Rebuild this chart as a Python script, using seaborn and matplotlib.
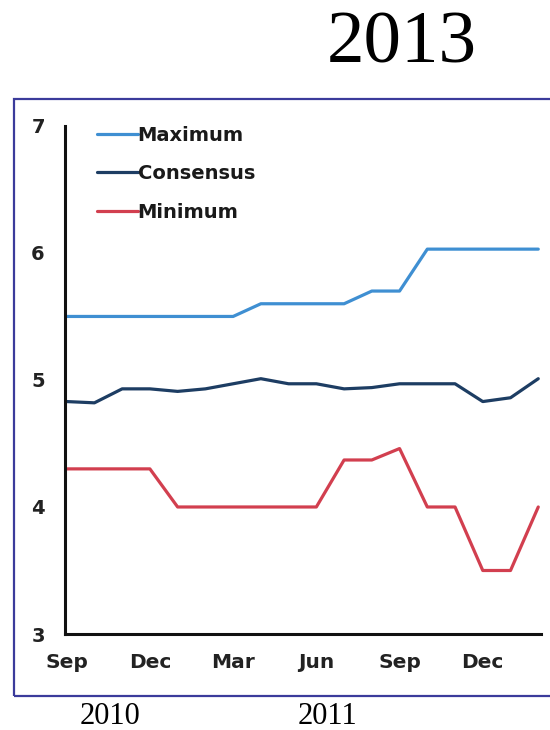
import matplotlib
matplotlib.use("Agg")
import matplotlib.pyplot as plt
from matplotlib.patches import Rectangle
import pandas as pd
import seaborn as sns

# Monthly survey readings, Sep 2010 - Feb 2012
months = ["Sep", "Oct", "Nov", "Dec", "Jan", "Feb", "Mar", "Apr", "May",
          "Jun", "Jul", "Aug", "Sep", "Oct", "Nov", "Dec", "Jan", "Feb"]
maximum = [5.50, 5.50, 5.50, 5.50, 5.50, 5.50, 5.50, 5.60, 5.60,
           5.60, 5.60, 5.70, 5.70, 6.03, 6.03, 6.03, 6.03, 6.03]
consensus = [4.83, 4.82, 4.93, 4.93, 4.91, 4.93, 4.97, 5.01, 4.97,
             4.97, 4.93, 4.94, 4.97, 4.97, 4.97, 4.83, 4.86, 5.01]
minimum = [4.30, 4.30, 4.30, 4.30, 4.00, 4.00, 4.00, 4.00, 4.00,
           4.00, 4.37, 4.37, 4.46, 4.00, 4.00, 3.50, 3.50, 4.00]

series_names = ["Maximum", "Consensus", "Minimum"]
series_colors = ["#3f8fd2", "#1d3d63", "#d23f4f"]
y_ticks = [3, 4, 5, 6, 7]
x_label_every = 3
year_labels = ["2010", "2011"]
title = "2013"

df = pd.DataFrame({
    "idx": list(range(len(months))) * 3,
    "value": maximum + consensus + minimum,
    "series": sum([[n] * len(months) for n in series_names], []),
})

sns.set_style("white")
plt.rcParams["font.family"] = ["DejaVu Sans"]

fig = plt.figure(figsize=(5.5, 7.3), dpi=100)
ax = fig.add_axes([0.1182, 0.1315, 0.8655, 0.696])

sns.lineplot(data=df, x="idx", y="value", hue="series", hue_order=series_names,
             palette=series_colors, linewidth=2.3, ax=ax, legend=True)

ax.set_xlim(-0.06, 17.1)
ax.set_ylim(3, 7)
ax.set_yticks(y_ticks)
ax.set_yticklabels([str(t) for t in y_ticks])
tick_pos = list(range(0, len(months), x_label_every))
ax.set_xticks(tick_pos)
ax.set_xticklabels([months[i] for i in tick_pos])
ax.set_xlabel("")
ax.set_ylabel("")

for side in ["top", "right"]:
    ax.spines[side].set_visible(False)
for side in ["left", "bottom"]:
    ax.spines[side].set_color("#111111")
    ax.spines[side].set_linewidth(2.2)

ax.tick_params(axis="y", direction="out", length=7.5, width=1.8, color="#111111",
               pad=7, labelsize=14, labelcolor="#222222")
ax.tick_params(axis="x", direction="out", length=6, width=1.8, color="#111111",
               pad=8, labelsize=14.5, labelcolor="#222222")
for lab in ax.get_xticklabels() + ax.get_yticklabels():
    lab.set_fontweight("bold")

leg = ax.legend(loc="upper left", bbox_to_anchor=(0.03, 1.035), frameon=False,
                handlelength=2.1, handletextpad=0.0, labelspacing=1.0,
                prop={"size": 14, "weight": "bold"})
for txt in leg.get_texts():
    txt.set_color("#1a1a1a")
for line in leg.get_lines():
    line.set_linewidth(2.3)

# Outer frame around the chart panel
fig.patches.append(Rectangle((0.0255, 0.0466), 1.2, 0.8178, transform=fig.transFigure,
                             fill=False, edgecolor="#3b3b9b", linewidth=1.6))

serif = ["Liberation Serif", "DejaVu Serif"]
fig.text(0.731, 1 - 45 / 730, title, ha="center", va="center",
         fontsize=54, family=serif, color="black")
fig.text(110 / 550, 1 - 716 / 730, year_labels[0], ha="center", va="center",
         fontsize=22, family=serif, color="black")
fig.text(327 / 550, 1 - 716 / 730, year_labels[1], ha="center", va="center",
         fontsize=22, family=serif, color="black")

fig.savefig("out.png", dpi=100)
